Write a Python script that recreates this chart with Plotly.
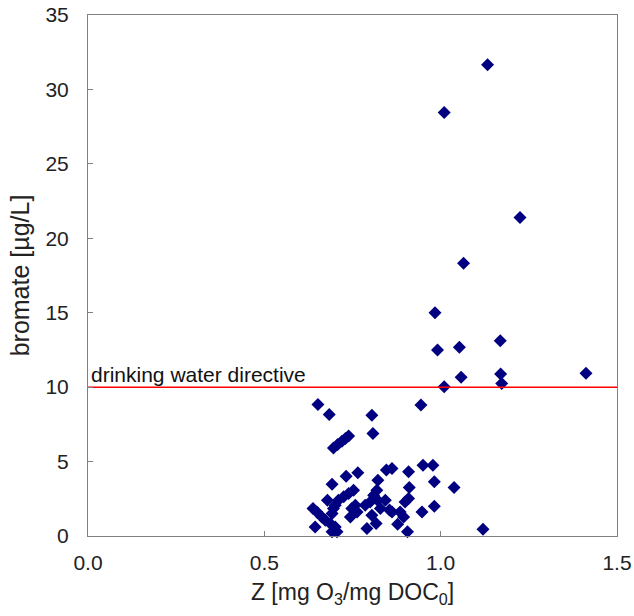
import plotly.graph_objects as go

# Z [mg O3 / mg DOC0]
z_values = [
    1.133, 1.010, 1.225, 1.065, 0.984, 0.991, 1.053, 1.169, 1.058, 1.170, 1.173, 1.412, 1.010,
    0.652, 0.684, 0.805, 0.944, 0.808, 0.696, 0.708, 0.720, 0.730, 0.739,
    0.846, 0.862, 0.909, 0.950, 0.978, 0.982, 1.038, 0.765, 0.732, 0.692, 0.822, 0.911,
    0.819, 0.810, 0.821, 0.753, 0.739, 0.725, 0.710, 0.701, 0.679, 0.909, 0.899, 0.843,
    0.638, 0.649, 0.663, 0.673, 0.696, 0.692, 0.758, 0.748, 0.763, 0.744, 0.786, 0.829,
    0.862, 0.885, 0.895, 0.947, 0.982, 0.805, 0.687, 0.701, 0.706, 0.692, 0.644, 0.791,
    0.817, 0.878, 0.906, 1.120, 0.800, 0.855,
]
# bromate [ug/L]
bromate = [
    31.66, 28.45, 21.39, 18.33, 15.00, 12.50, 12.68, 13.12, 10.66, 10.88, 10.25, 10.93, 10.03,
    8.84, 8.17, 8.12, 8.80, 6.89, 5.92, 6.14, 6.37, 6.55, 6.71,
    4.43, 4.54, 4.31, 4.76, 4.76, 3.64, 3.26, 4.25, 4.02, 3.48, 3.75, 3.26,
    3.08, 2.74, 2.41, 3.08, 2.86, 2.63, 2.41, 2.07, 2.41, 2.52, 2.29, 2.41,
    1.85, 1.62, 1.28, 1.06, 1.85, 1.51, 2.07, 1.85, 1.62, 1.28, 2.07, 1.85,
    1.62, 1.62, 1.28, 1.62, 2.00, 1.40, 0.84, 0.61, 0.28, 0.28, 0.61, 0.50,
    0.84, 0.79, 0.28, 0.46, 2.29, 1.75,
]

directive_limit = 10
directive_label = "drinking water directive"
x_ticks = [0.0, 0.5, 1.0, 1.5]
y_ticks = [0, 5, 10, 15, 20, 25, 30, 35]

fig = go.Figure()
fig.add_trace(go.Scatter(
    x=z_values, y=bromate, mode="markers",
    marker=dict(symbol="diamond", size=10, color="#000080", line=dict(width=0)),
    showlegend=False, cliponaxis=False,
))
fig.add_trace(go.Scatter(
    x=[0, 1.5], y=[directive_limit, directive_limit], mode="lines",
    line=dict(color="#FF0000", width=1.5), showlegend=False,
))
fig.add_annotation(
    x=0, y=directive_limit, xref="x", yref="y", text=directive_label,
    showarrow=False, xanchor="left", yanchor="bottom", xshift=1, yshift=-1,
    font=dict(family="Liberation Sans, Arial", size=21, color="#111111"),
)

axis_common = dict(
    showline=True, linecolor="#808080", linewidth=1, mirror=True, automargin=False,
    ticks="inside", ticklen=5, tickcolor="#808080", showgrid=False, zeroline=False,
    tickfont=dict(family="Liberation Sans, Arial", size=21, color="#222222"),
)
fig.update_xaxes(
    range=[0, 1.5], tickvals=x_ticks, ticktext=[f"{v:.1f}" for v in x_ticks],
    title=dict(text="Z [mg O<sub>3</sub>/mg DOC<sub>0</sub>]", standoff=10,
               font=dict(family="Liberation Sans, Arial", size=23, color="#222222")),
    ticklabelstandoff=8, **axis_common,
)
fig.update_yaxes(
    range=[0, 35], tickvals=y_ticks,
    title=dict(text="bromate [µg/L]", standoff=8,
               font=dict(family="Liberation Sans, Arial", size=25, color="#222222")),
    ticklabelstandoff=14, **axis_common,
)
fig.update_layout(
    width=634, height=616, margin=dict(l=88, r=17, t=15, b=80),
    plot_bgcolor="white", paper_bgcolor="white",
)
fig.write_html("out.html")
